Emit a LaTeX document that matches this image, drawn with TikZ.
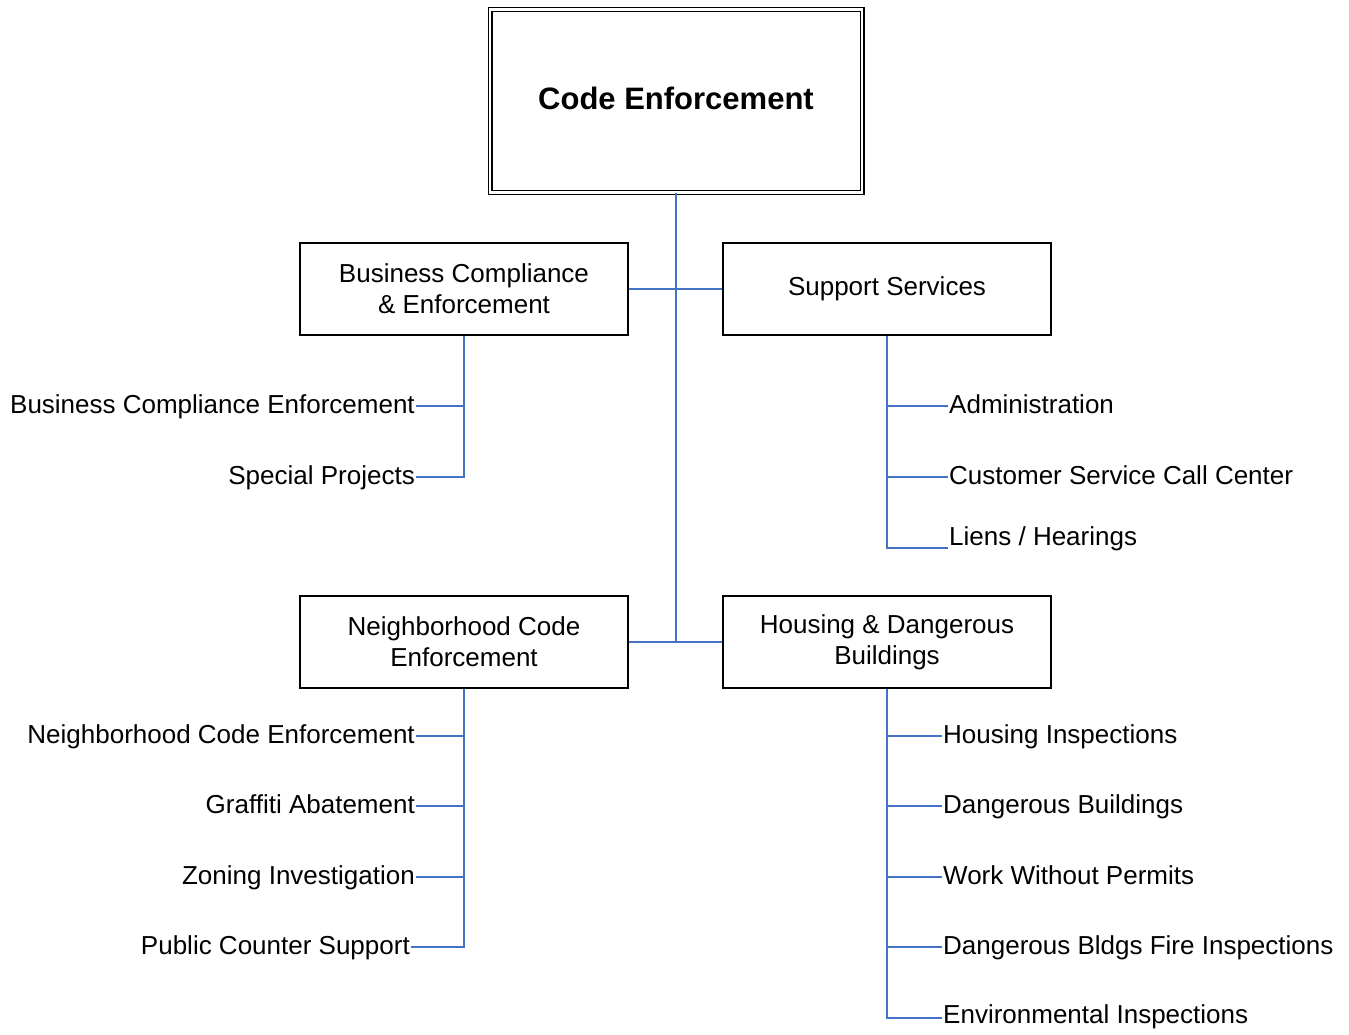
\documentclass[tikz,border=0pt]{standalone}
\usepackage{fontspec}
\setmainfont{Liberation Sans}
\definecolor{linkblue}{HTML}{4472C4}
\tikzset{
    every node/.style={font=\fontsize{26}{31}\selectfont, inner sep=1pt}
}
\tikzset{
    unit/.style={rectangle, draw=black, line width=2pt, inner sep=0pt,
    	minimum width=328pt, minimum height=92pt, align=center}
}
\tikzset{
    item/.style={text height=19pt, text depth=5pt}
}
\tikzset{
    branch/.style={draw=linkblue, line width=2pt}
}

\begin{document}
\begin{tikzpicture}[x=1pt,y=-1pt]
	\useasboundingbox (0,0) rectangle (1349,1034);
	\node (0) [rectangle, draw=black, line width=1.2pt, double, double distance=2.6pt,
		minimum width=372pt, minimum height=183pt, text depth=6pt,
		font=\fontsize{31}{37}\selectfont\bfseries] at (676,101) {Code Enforcement};
	\node (1) [unit] at (464,289) {Business Compliance\\ \& Enforcement};
	\node (2) [unit] at (887,289) {Support Services};
	\node (3) [unit] at (464,642) {Neighborhood Code\\Enforcement};
	\node (4) [unit] at (887,642) {Housing \& Dangerous\\Buildings};
	\coordinate (j) at (0.south |- 3.east);

	\node (11) [item, anchor=east] at (416,406) {Business Compliance Enforcement};
	\node (12) [item, anchor=east] at (416,477) {Special Projects};
	\node (21) [item, anchor=west] at (948,406) {Administration};
	\node (22) [item, anchor=west] at (948,477) {Customer Service Call Center};
	\node (23) [item, anchor=west] at (948,538) {Liens / Hearings};
	\node (31) [item, anchor=east] at (416,736) {Neighborhood Code Enforcement};
	\node (32) [item, anchor=east] at (416,806) {Graffiti Abatement};
	\node (33) [item, anchor=east] at (416,877) {Zoning Investigation};
	\node (34) [item, anchor=east] at (411,947) {Public Counter Support};
	\node (41) [item, anchor=west] at (942,736) {Housing Inspections};
	\node (42) [item, anchor=west] at (942,806) {Dangerous Buildings};
	\node (43) [item, anchor=west] at (942,877) {Work Without Permits};
	\node (44) [item, anchor=west] at (942,947) {Dangerous Bldgs Fire Inspections};
	\node (45) [item, anchor=west] at (942,1016) {Environmental Inspections};

	\draw [branch] (0.south) -- (j);
	\draw [branch] (1.east) -- (2.west); \draw [branch] (3.east) -- (4.west);
	\draw [branch] (1.south) |- (11.east); \draw [branch] (1.south) |- (12.east);
	\draw [branch] (2.south) |- (21.west); \draw [branch] (2.south) |- (22.west);
	\draw [branch] (2.south) |- ([yshift=-10pt]23.west);
	\draw [branch] (3.south) |- (31.east); \draw [branch] (3.south) |- (32.east);
	\draw [branch] (3.south) |- (33.east); \draw [branch] (3.south) |- (34.east);
	\draw [branch] (4.south) |- (41.west); \draw [branch] (4.south) |- (42.west);
	\draw [branch] (4.south) |- (43.west); \draw [branch] (4.south) |- (44.west);
	\draw [branch] (4.south) |- ([yshift=-2pt]45.west);
\end{tikzpicture}
\end{document}
